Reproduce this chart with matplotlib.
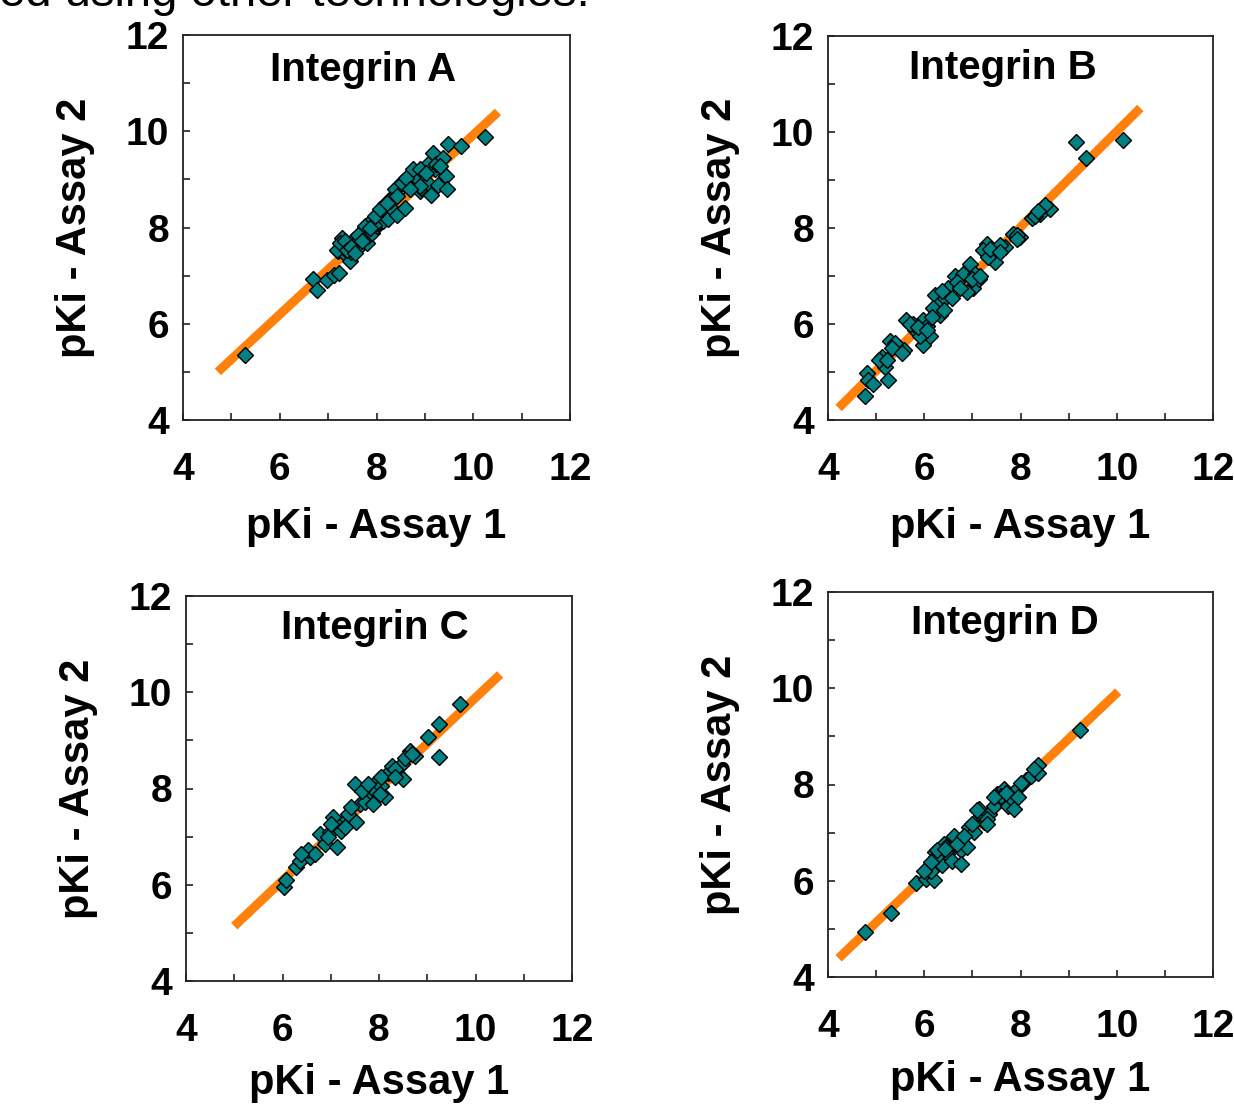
import matplotlib
matplotlib.use("Agg")
import matplotlib.pyplot as plt
from matplotlib.ticker import MultipleLocator

FONT = "Liberation Sans"

titles = ["Integrin A", "Integrin B", "Integrin C", "Integrin D"]
xlabel = "pKi - Assay 1"
ylabel = "pKi - Assay 2"
ticks = [4, 6, 8, 10, 12]

# Integrin A
a_x = [5.28, 6.68, 6.76, 6.97, 7.12, 7.23, 7.21, 7.31, 7.38, 7.45, 7.52, 7.28, 7.42,
       7.59, 7.66, 7.73, 7.76, 7.80, 7.83, 7.90, 7.93, 8.00, 8.04, 8.07, 8.14, 8.17,
       8.24, 8.31, 8.35, 8.42, 8.48, 8.55, 8.59, 8.69, 8.76, 8.83, 8.90, 8.93, 9.07,
       9.07, 9.12, 9.17, 9.20, 9.24, 9.28, 9.38, 9.43, 9.45, 9.48, 9.74, 10.24,
       7.35, 7.48, 7.62, 7.95, 8.28,
       7.18, 7.24, 7.35, 7.38, 7.48, 7.55, 7.69, 7.86, 7.97, 8.07, 8.21, 8.38, 8.52,
       8.62, 8.76, 8.90, 9.03, 9.31, 8.90, 8.69, 8.42]
a_y = [5.35, 6.93, 6.71, 6.90, 7.02, 7.05, 7.51, 7.65, 7.40, 7.30, 7.75, 7.79, 7.62,
       7.72, 7.61, 7.82, 8.03, 7.68, 7.82, 7.89, 8.17, 8.03, 8.10, 8.27, 8.13, 8.48,
       8.17, 8.41, 8.65, 8.27, 8.79, 8.96, 8.41, 8.93, 9.10, 9.03, 8.76, 8.83, 9.31,
       8.93, 8.67, 9.55, 9.21, 9.31, 8.88, 9.45, 9.07, 8.81, 9.73, 9.69, 9.88,
       7.55, 7.50, 7.85, 8.05, 8.55,
       7.54, 7.68, 7.72, 7.54, 7.60, 7.47, 7.72, 8.00, 8.24, 8.38, 8.51, 8.79, 8.93,
       9.03, 9.21, 9.21, 9.14, 9.28, 8.86, 8.79, 8.65]
a_fit_x = [4.72, 10.51]
a_fit_y = [5.00, 10.40]

# Integrin B
b_x = [4.77, 4.80, 4.84, 5.12, 5.18, 5.25, 5.29, 5.46, 5.63, 5.57, 5.81, 5.98, 5.98,
       6.12, 6.22, 6.29, 6.33, 6.50, 6.64, 6.81, 6.95, 7.06, 7.02, 7.13, 7.30, 7.44,
       7.47, 7.68, 7.85, 7.99, 8.23, 8.41, 8.62, 8.51, 9.15, 9.36, 10.12, 6.19, 6.43,
       5.91, 5.77, 5.39, 5.05, 6.68, 6.88, 7.23, 7.33, 7.58, 7.92, 8.30, 6.05, 6.40,
       4.94, 5.22, 5.32, 5.53, 5.70, 5.88, 6.05, 6.16, 6.36, 6.57, 6.74, 6.99, 7.16,
       7.37, 7.58, 7.92, 8.37]
b_y = [4.51, 4.97, 4.83, 5.32, 5.11, 4.83, 5.65, 5.52, 6.08, 5.46, 5.88, 6.08, 5.56,
       5.74, 6.61, 6.40, 6.19, 6.74, 7.01, 7.05, 7.26, 7.05, 6.74, 6.94, 7.67, 7.50,
       7.29, 7.60, 7.88, 7.81, 8.20, 8.29, 8.40, 8.47, 9.79, 9.46, 9.84, 6.33, 6.54,
       5.74, 6.01, 5.60, 5.25, 6.88, 6.67, 7.54, 7.40, 7.64, 7.85, 8.25, 5.95, 6.30,
       4.76, 5.25, 5.49, 5.39, 6.01, 5.94, 5.88, 6.15, 6.68, 6.54, 6.74, 6.94, 7.01,
       7.56, 7.50, 7.78, 8.35]
b_fit_x = [4.22, 10.49]
b_fit_y = [4.25, 10.50]

# Integrin C
c_x = [6.04, 6.08, 6.29, 6.36, 6.56, 6.53, 6.77, 6.88, 6.98, 7.12, 7.15, 7.33, 7.53,
       7.50, 7.60, 7.78, 7.92, 7.99, 8.05, 8.12, 8.19, 8.26, 8.50, 8.47, 8.64, 8.75,
       9.02, 9.25, 9.25, 9.68, 7.05, 7.36, 7.71, 8.02, 8.33, 7.64, 7.22, 6.67, 6.94,
       6.39, 7.01, 7.43, 7.78, 7.88, 8.05, 8.33, 8.54, 8.68, 7.29]
c_y = [5.95, 6.10, 6.36, 6.50, 6.57, 6.72, 7.05, 6.85, 7.09, 6.78, 7.26, 7.37, 7.30,
       8.09, 7.68, 7.88, 7.95, 8.20, 8.06, 7.82, 8.33, 8.47, 8.19, 8.50, 8.78, 8.68,
       9.06, 9.35, 8.66, 9.75, 7.40, 7.47, 7.71, 7.88, 8.40, 7.95, 7.12, 6.64, 6.99,
       6.64, 7.26, 7.61, 8.09, 7.68, 8.23, 8.23, 8.64, 8.71, 7.19]
c_fit_x = [5.00, 10.51]
c_fit_y = [5.14, 10.37]

# Integrin D
d_x = [4.77, 5.31, 5.82, 6.03, 6.20, 6.13, 6.23, 6.30, 6.37, 6.48, 6.55, 6.58, 6.62,
       6.76, 6.89, 6.93, 7.03, 7.14, 7.24, 7.17, 7.35, 7.45, 7.52, 7.63, 7.66, 7.73,
       7.83, 7.87, 7.94, 8.11, 8.22, 8.36, 8.36, 9.23, 6.76, 6.41, 6.99, 7.31, 7.59,
       6.25, 6.45,
       6.13, 6.27, 6.44, 6.69, 6.82, 7.10, 7.31, 7.45, 7.69, 7.94, 8.01, 8.29, 5.99]
d_y = [4.94, 5.32, 5.95, 6.04, 6.01, 6.21, 6.59, 6.42, 6.32, 6.56, 6.83, 6.42, 6.93,
       6.63, 6.70, 7.11, 7.01, 7.50, 7.23, 7.36, 7.39, 7.56, 7.80, 7.70, 7.90, 7.56,
       7.70, 7.49, 7.93, 8.10, 8.17, 8.41, 8.24, 9.13, 6.35, 6.77, 7.18, 7.29, 7.77,
       6.50, 6.70,
       6.39, 6.63, 6.66, 6.77, 6.94, 7.46, 7.18, 7.73, 7.83, 7.73, 8.04, 8.32, 6.21]
d_fit_x = [4.22, 10.03]
d_fit_y = [4.39, 9.93]

panels = [
    (a_x, a_y, a_fit_x, a_fit_y),
    (b_x, b_y, b_fit_x, b_fit_y),
    (c_x, c_y, c_fit_x, c_fit_y),
    (d_x, d_y, d_fit_x, d_fit_y),
]

W, H = 1234, 1104
# axes boxes in pixels: left, top, right, bottom
boxes = [(183, 35, 570, 420), (828, 36, 1213, 420),
         (186, 596, 572, 981), (828, 592, 1213, 977)]
# title centres in pixels
title_pos = [(363, 70), (1003, 68), (375, 628), (1005, 623)]
xlabel_pads = [14, 14, 10, 11]

fig = plt.figure(figsize=(W / 100, H / 100), dpi=100)

fig.text(590 / W, 1 - 6 / H, "ed using other technologies.", ha="right",
         va="baseline", fontsize=34, family=FONT, color="black")

for (xs, ys, fx, fy), title, (l, t, r, b), (tx, ty), lp in zip(
        panels, titles, boxes, title_pos, xlabel_pads):
    ax = fig.add_axes([l / W, 1 - b / H, (r - l) / W, (b - t) / H])
    ax.plot(fx, fy, color="#FF800A", lw=6.5, solid_capstyle="butt", zorder=2)
    ax.plot(xs, ys, linestyle="none", marker="D", markersize=7.8,
            markerfacecolor="#008080", markeredgecolor="black",
            markeredgewidth=1.0, zorder=3)
    ax.set_xlim(4, 12)
    ax.set_ylim(4, 12)
    ax.set_xticks(ticks)
    ax.set_yticks(ticks)
    ax.xaxis.set_minor_locator(MultipleLocator(1))
    ax.yaxis.set_minor_locator(MultipleLocator(1))
    ax.tick_params(which="both", direction="in", length=5, width=1.2,
                   top=False, right=False, color="#222222")
    ax.tick_params(axis="x", which="major", pad=23)
    ax.tick_params(axis="y", which="major", pad=10)
    for lab in ax.get_xticklabels() + ax.get_yticklabels():
        lab.set_fontsize(28)
        lab.set_fontweight("bold")
        lab.set_family(FONT)
    for sp in ax.spines.values():
        sp.set_linewidth(1.3)
        sp.set_color("#222222")
    ax.set_xlabel(xlabel, fontsize=30, fontweight="bold", family=FONT, labelpad=lp)
    ax.set_ylabel(ylabel, fontsize=30, fontweight="bold", family=FONT, labelpad=22)
    fig.text(tx / W, 1 - ty / H, title, ha="center", va="center",
             fontsize=29, fontweight="bold", family=FONT)

fig.savefig("out.png", dpi=100, facecolor="white")
